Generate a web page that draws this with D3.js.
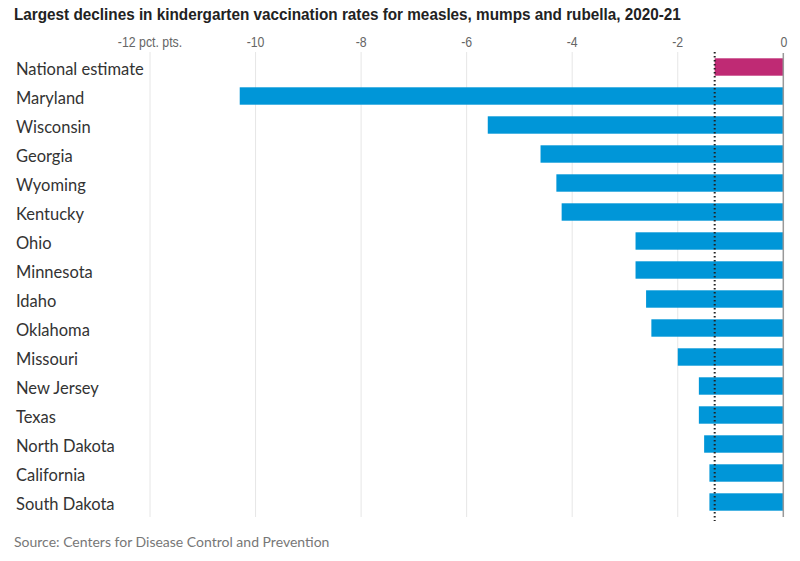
<!DOCTYPE html>
<html><head><meta charset="utf-8">
<script src="https://cdn.jsdelivr.net/npm/d3@7"></script>
<style>body{margin:0;background:#fff}</style>
</head><body>
<svg id="chart" width="800" height="561"></svg>
<script>
const categories = ["National estimate","Maryland","Wisconsin","Georgia","Wyoming","Kentucky","Ohio","Minnesota","Idaho","Oklahoma","Missouri","New Jersey","Texas","North Dakota","California","South Dakota"];
const values = [-1.3,-10.3,-5.6,-4.6,-4.3,-4.2,-2.8,-2.8,-2.6,-2.5,-2.0,-1.6,-1.6,-1.5,-1.4,-1.4];
const tickValues = [-12,-10,-8,-6,-4,-2,0];
const tickLabels = ["-12 pct. pts.","-10","-8","-6","-4","-2","0"];
const nationalValue = -1.3;
const title = "Largest declines in kindergarten vaccination rates for measles, mumps and rubella, 2020-21";
const source = "Source: Centers for Disease Control and Prevention";

const svg = d3.select("#chart");
const x = d3.scaleLinear().domain([-12,0]).range([150,783.3]);
const y = d3.scaleBand().domain(categories).range([52.5,516.5]).paddingInner(0.4).paddingOuter(0.2);

svg.append("text").attr("transform","translate(14,20) scale(0.9,1)")
  .attr("font-family","Liberation Sans, Arial, sans-serif")
  .attr("font-weight","bold").attr("font-size",17).attr("fill","#222").text(title);

// gridlines
svg.append("g").selectAll("line").data(tickValues.filter(d=>d!==0)).join("line")
  .attr("x1",d=>x(d)).attr("x2",d=>x(d)).attr("y1",52).attr("y2",517)
  .attr("stroke","#e6e6e6").attr("stroke-width",1);

// tick labels
svg.append("g").selectAll("text").data(tickValues).join("text")
  .attr("transform",d=>`translate(${x(d)+(d===0?4:0)},47) scale(0.88,1)`)
  .attr("text-anchor",d=>d===0?"end":"middle")
  .attr("font-family","Liberation Sans, Arial, sans-serif")
  .attr("font-size",14).attr("fill","#666").text((d,i)=>tickLabels[i]);

// bars
svg.append("g").selectAll("rect").data(categories).join("rect")
  .attr("x",(d,i)=>x(values[i])).attr("width",(d,i)=>x(0)-x(values[i]))
  .attr("y",d=>y(d)).attr("height",y.bandwidth())
  .attr("fill",(d,i)=>i===0?"#bf2a74":"#0096d8");

// zero line
svg.append("line").attr("x1",x(0)).attr("x2",x(0)).attr("y1",53).attr("y2",517)
  .attr("stroke","#999").attr("stroke-width",1.5);

// dotted national line
svg.append("line").attr("x1",x(nationalValue)).attr("x2",x(nationalValue)).attr("y1",52).attr("y2",521)
  .attr("stroke","#222").attr("stroke-width",2).attr("stroke-dasharray","1.5,2.5");

// category labels
svg.append("g").selectAll("text").data(categories).join("text")
  .attr("x",16).attr("y",d=>y(d)+y.bandwidth()/2+2).attr("dy","0.36em")
  .attr("font-family","Lato, sans-serif").attr("font-size",16.5).attr("fill","#333").text(d=>d);

svg.append("text").attr("x",14).attr("y",547)
  .attr("font-family","Lato, sans-serif").attr("font-size",14).attr("fill","#777").text(source);
</script>
</body></html>
